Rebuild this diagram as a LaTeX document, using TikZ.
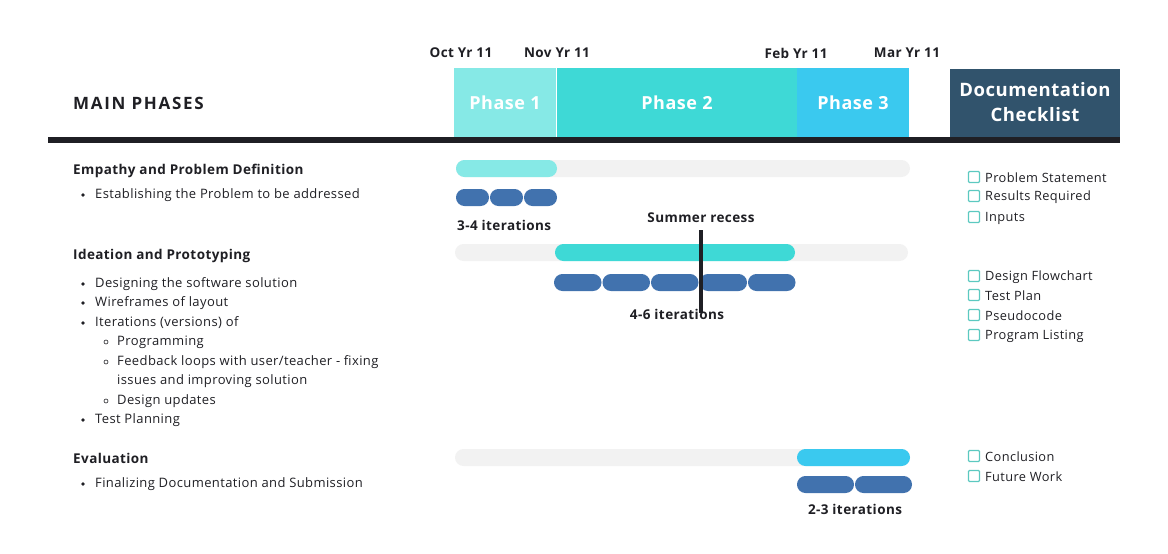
\documentclass[tikz,border=0pt]{standalone}
\usepackage{fontspec}
\setmainfont{Open Sans}[LetterSpace=3]
\definecolor{phaseA}{HTML}{86E9E6}
\definecolor{phaseB}{HTML}{3ED9D6}
\definecolor{phaseC}{HTML}{3AC9EF}
\definecolor{docblue}{HTML}{31536C}
\definecolor{iterblue}{HTML}{4172AE}
\definecolor{track}{HTML}{F2F2F2}
\definecolor{ink}{HTML}{1F1F24}
\definecolor{chkteal}{HTML}{5CC9C0}

\begin{document}
\begin{tikzpicture}[x=1pt,y=-1pt,
  date/.style={font=\fontsize{13.5}{15}\selectfont\bfseries, text=ink, inner sep=0pt},
  phasebox/.style={font=\fontsize{18}{22}\selectfont\bfseries, text=white, inner sep=0pt, minimum height=69},
  head/.style={font=\fontsize{13.5}{16}\selectfont\bfseries, text=ink, inner sep=0pt, anchor=west},
  item/.style={font=\fontsize{13}{15}\selectfont, text=ink, inner sep=0pt, anchor=west},
  iterlbl/.style={font=\fontsize{13.5}{15}\selectfont\bfseries, text=ink, inner sep=0pt},
  bar/.style={rounded corners=8.4},
  iter/.style={fill=iterblue, rounded corners=8.4},
  chk/.style={draw=chkteal, line width=1.1pt, rounded corners=1}]
\useasboundingbox (0,0) rectangle (1168,554);

% dates
\node[date] (oct) at (461,53) {Oct Yr 11};
\node[date] (nov) at (557,53) {Nov Yr 11};
\node[date] (feb) at (796,53) {Feb Yr 11};
\node[date] (mar) at (907,53) {Mar Yr 11};

% header
\node[head, font=\fontsize{17}{20}\selectfont\bfseries\addfontfeatures{LetterSpace=10}] (main) at (73,103) {MAIN PHASES};
\node[phasebox, fill=phaseA, minimum width=102] (ph1) at (505,102.5) {Phase 1};
\node[phasebox, fill=phaseB, minimum width=240] (ph2) at (677,102.5) {Phase 2};
\node[phasebox, fill=phaseC, minimum width=112] (ph3) at (853,102.5) {Phase 3};
\node[phasebox, fill=docblue, minimum width=170, minimum height=68, align=center,
  font=\fontsize{18.5}{25}\selectfont\bfseries] (doc) at (1035,102.5) {Documentation\\Checklist};
\fill[ink] (48,137) rectangle (1120,143);

% row 1
\node[head] (r1) at (73,171) {Empathy and Problem Definition};
\fill[ink] (83,195) circle (1.8);
\node[item] (r1a) at (95,195) {Establishing the Problem to be addressed};
\fill[track, bar] (456,160) rectangle (910,177);
\fill[phaseA, bar] (456,160) rectangle (557,177);
\foreach \i in {0,1,2}
  \fill[iter] ({456+\i*34},189) rectangle +(33,17);
\node[iterlbl, anchor=west] (it1) at (457,225) {3-4 iterations};

% row 2
\node[head] (r2) at (73,256) {Ideation and Prototyping};
\foreach \y/\t in {284/Designing the software solution, 303/Wireframes of layout,
  323/Iterations (versions) of, 420/Test Planning} {
  \fill[ink] (83,\y) circle (1.8);
  \node[item] at (95,\y) {\t};
}
\foreach \y/\t in {342/{Programming}, 362/{Feedback loops with user/teacher - fixing}, 401/{Design updates}} {
  \draw[ink, line width=0.6pt] (106,\y) circle (2);
  \node[item] at (117,\y) {\t};
}
\node[item] (r2d) at (117,381) {issues and improving solution};
\fill[track, bar] (455,244) rectangle (908,261);
\fill[phaseB, bar] (555,244) rectangle (795,261);
\foreach \i in {0,1,2,3,4}
  \fill[iter] ({554+\i*48.5},274) rectangle +(47.5,17);
\node[iterlbl] (it2) at (677,314) {4-6 iterations};
\node[iterlbl] (recess) at (701,218) {Summer recess};
\coordinate (rtop) at (701,230);
\coordinate (rbot) at (701,313);
\draw[ink, line width=4pt] (rtop) -- (rbot);

% row 3
\node[head] (r3) at (73,458) {Evaluation};
\fill[ink] (83,484) circle (1.8);
\node[item] (r3a) at (95,484) {Finalizing Documentation and Submission};
\fill[track, bar] (455,449) rectangle (910,466);
\fill[phaseC, bar] (797,449) rectangle (910,466);
\foreach \i in {0,1}
  \fill[iter] ({797+\i*58},476) rectangle +(57,17);
\node[iterlbl] (it3) at (855,509) {2-3 iterations};

% checklist
\foreach \y/\t in {177/Problem Statement, 196/Results Required, 217/Inputs,
  276/Design Flowchart, 295/Test Plan, 315/Pseudocode, 335/Program Listing,
  456/Conclusion, 476/Future Work} {
  \draw[chk] (968.5,{\y-5.5}) rectangle +(11,11);
  \node[item, font=\fontsize{12.8}{15}\selectfont] at (985,{\y+1}) {\t};
}
\end{tikzpicture}
\end{document}
